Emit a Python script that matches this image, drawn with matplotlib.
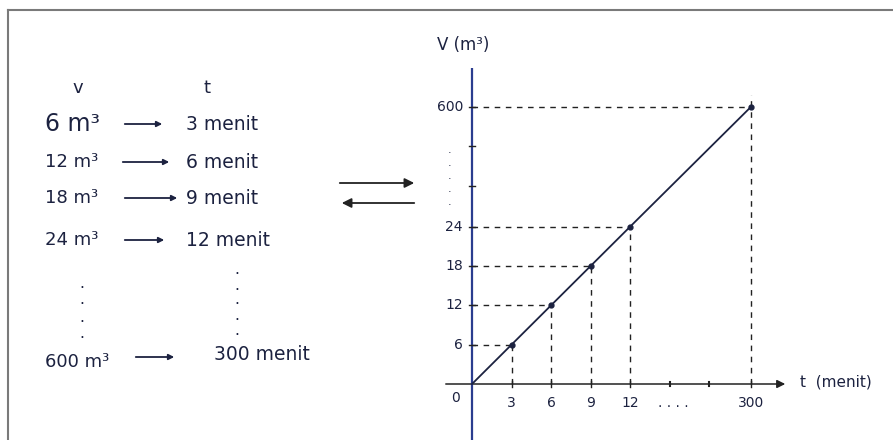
import numpy as np
import matplotlib
matplotlib.use("Agg")
import matplotlib.pyplot as plt
from matplotlib.patches import FancyArrowPatch

# ---- data ----
volumes = [6, 12, 18, 24, 600]          # m^3
times = [3, 6, 9, 12, 300]              # menit
table_v = ["6 m³", "12 m³", "18 m³", "24 m³", "600 m³"]
table_t = ["3 menit", "6 menit", "9 menit", "12 menit", "300 menit"]
xtick_vals = [3, 6, 9, 12, 300]
ytick_vals = [6, 12, 18, 24, 600]

INK = "#1c2240"
AXBLUE = "#2b3d8f"

W, H = 893, 440
fig = plt.figure(figsize=(W / 100, H / 100), dpi=100)
fig.patch.set_facecolor("white")

# frame (top and left edges visible)
fig.add_artist(plt.Line2D([8 / W, 1], [1 - 10 / H, 1 - 10 / H], color="#7a7a7a", lw=1.5))
fig.add_artist(plt.Line2D([8 / W, 8 / W], [0, 1 - 10 / H], color="#7a7a7a", lw=1.5))


def fx(px):
    return px / W


def fy(py):
    return 1 - py / H


# ---- left table text ----
fig.text(fx(78), fy(88), "v", fontsize=13, color=INK, ha="center", va="center")
fig.text(fx(207), fy(88), "t", fontsize=13, color=INK, ha="center", va="center")
rows_yv = [124, 162, 198, 240, 362]
rows_yt = [124, 162, 198, 240, 354]
arrow_spans = [(122, 165), (120, 172), (122, 180), (122, 167), (133, 177)]
for i, (lv, lt) in enumerate(zip(table_v, table_t)):
    fs = 17 if i == 0 else 13
    fig.text(fx(45), fy(rows_yv[i]), lv, fontsize=fs, color=INK, ha="left", va="center")
    fig.text(fx(186 if i < 4 else 214), fy(rows_yt[i]), lt, fontsize=13.5, color=INK,
             ha="left", va="center")
    a0, a1 = arrow_spans[i]
    ya = rows_yv[i] if i < 4 else 357
    fig.add_artist(FancyArrowPatch((fx(a0), fy(ya)), (fx(a1), fy(ya)),
                                   arrowstyle="-|>", mutation_scale=8,
                                   color=INK, lw=1.3))
for yy in [283, 300, 317, 334]:
    fig.text(fx(82), fy(yy), ".", fontsize=11, color=INK, ha="center", va="center")
for yy in [270, 285, 300, 315, 330]:
    fig.text(fx(237), fy(yy), ".", fontsize=11, color=INK, ha="center", va="center")

# ---- middle double arrows ----
fig.add_artist(FancyArrowPatch((fx(337), fy(183)), (fx(417), fy(183)),
                               arrowstyle="-|>", mutation_scale=14,
                               color="#222222", lw=1.3))
fig.add_artist(FancyArrowPatch((fx(417), fy(203)), (fx(339), fy(203)),
                               arrowstyle="-|>", mutation_scale=14,
                               color="#222222", lw=1.3))

# ---- graph with broken scales ----
X_BREAK, X_GAP = 12, 3.06
Y_BREAK, Y_GAP = 24, 3.05
OX, OY, SX, SY = 472, 384, 39.5, 39.3   # origin pixel and px per step


def xf(t):
    t = np.asarray(t, dtype=float)
    return np.where(t <= X_BREAK, t / 3, 4 + (t - X_BREAK) * X_GAP / (300 - X_BREAK))


def xi(p):
    p = np.asarray(p, dtype=float)
    return np.where(p <= 4, 3 * p, X_BREAK + (p - 4) * (300 - X_BREAK) / X_GAP)


def yf(v):
    v = np.asarray(v, dtype=float)
    return np.where(v <= Y_BREAK, v / 6, 4 + (v - Y_BREAK) * Y_GAP / (600 - Y_BREAK))


def yi(q):
    q = np.asarray(q, dtype=float)
    return np.where(q <= 4, 6 * q, Y_BREAK + (q - 4) * (600 - Y_BREAK) / Y_GAP)


def dx(px):  # horizontal pixel offset from origin -> data x
    return float(xi(px / SX))


def dy(py):  # vertical pixel offset (up) from origin -> data y
    return float(yi(py / SY))


left_px, right_px, top_px, bot_px = 443, 792, 68, 440
ax = fig.add_axes([left_px / W, 1 - bot_px / H, (right_px - left_px) / W, (bot_px - top_px) / H])
ax.set_xscale("function", functions=(xf, xi))
ax.set_yscale("function", functions=(yf, yi))
ax.set_xlim(dx(left_px - OX), dx(right_px - OX))
ax.set_ylim(dy(-(bot_px - OY)), dy(OY - top_px))
ax.set_facecolor("none")
for s in ax.spines.values():
    s.set_visible(False)
ax.set_xticks([])
ax.set_yticks([])

# axes lines
yl = ax.get_ylim()
ax.plot([0, 0], [yl[0], yl[1]], color=AXBLUE, lw=1.6, solid_capstyle="butt")
ax.add_artist(FancyArrowPatch((dx(443 - OX), 0), (dx(788 - OX), 0),
                              arrowstyle="-|>", mutation_scale=12, color="#222222", lw=1.1))

# guide lines
for t, v in zip(times, volumes):
    ax.plot([0, t], [v, v], color="#222222", lw=1.0, ls=(0, (4, 4)))
    top = v if t != 300 else dy(OY - 95)
    ax.plot([t, t], [0, top], color="#222222", lw=1.0, ls=(0, (4, 4)))

# main line and points
ax.plot([0] + times, [0] + volumes, color=INK, lw=1.3)
ax.plot(times, volumes, "o", color=INK, ms=3.5)

# ticks
for t in xtick_vals:
    ax.plot([t, t], [dy(-3), dy(3)], color="#222222", lw=1)
    ax.text(t, dy(-19), str(t), fontsize=10, color=INK, ha="center", va="center")
for v in ytick_vals:
    ax.plot([dx(-3), dx(3)], [v, v], color="#222222", lw=1)
    ax.text(dx(-9), v, str(v), fontsize=10, color=INK, ha="right", va="center")
for py in [OY - 146, OY - 186]:
    ax.plot([dx(-3), dx(3)], [dy(py), dy(py)], color="#222222", lw=1)
for px in [670 - OX, 709 - OX]:
    ax.plot([dx(px), dx(px)], [dy(-2), dy(2)], color="#222222", lw=1.5)
ax.text(dx(455 - OX), dy(-14), "0", fontsize=10, color=INK, ha="center", va="center")
ax.text(dx(673 - OX), dy(-19), ". . . .", fontsize=10, color=INK, ha="center", va="center")
for py in [150, 163, 176, 189, 202]:
    ax.text(dx(450 - OX), dy(OY - py), ".", fontsize=8, color=INK, ha="center", va="center")

# axis labels
fig.text(fx(463), fy(45), "V (m³)", fontsize=12, color=INK, ha="center", va="center")
fig.text(fx(800), fy(382), "t  (menit)", fontsize=11, color=INK, ha="left", va="center")

fig.savefig("out.png", dpi=100)
